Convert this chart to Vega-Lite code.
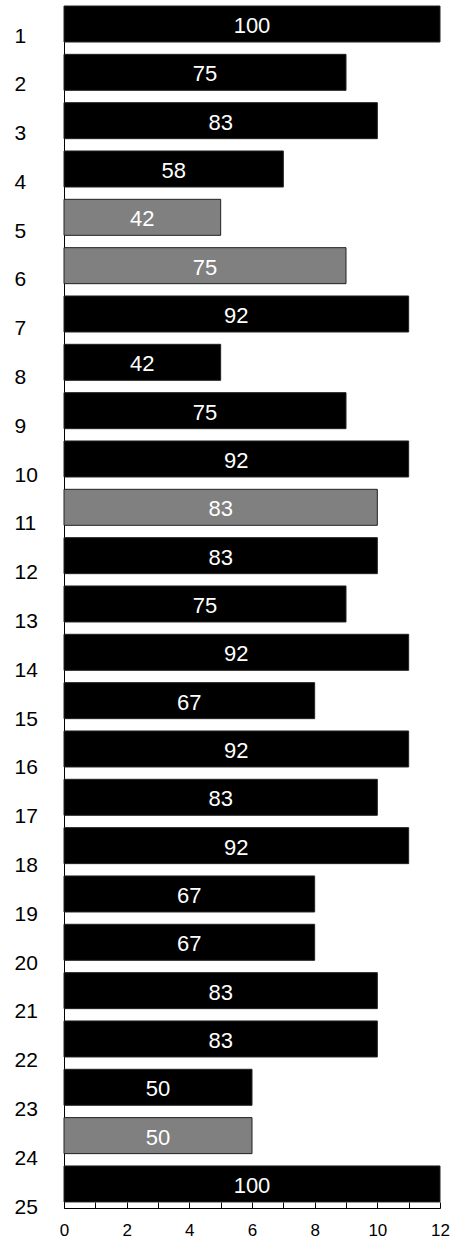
{
  "$schema": "https://vega.github.io/schema/vega-lite/v6.json",
  "width": 376,
  "height": 1202,
  "autosize": {"type": "none"},
  "padding": {"left": 64, "top": 6, "right": 20, "bottom": 33},
  "background": "white",
  "config": {
    "view": {"stroke": null},
    "font": "Liberation Sans",
    "axis": {"grid": false}
  },
  "data": {
    "values": [
      {"row": 1, "value": 12, "pct": 100, "status": "normal"},
      {"row": 2, "value": 9, "pct": 75, "status": "normal"},
      {"row": 3, "value": 10, "pct": 83, "status": "normal"},
      {"row": 4, "value": 7, "pct": 58, "status": "normal"},
      {"row": 5, "value": 5, "pct": 42, "status": "highlight"},
      {"row": 6, "value": 9, "pct": 75, "status": "highlight"},
      {"row": 7, "value": 11, "pct": 92, "status": "normal"},
      {"row": 8, "value": 5, "pct": 42, "status": "normal"},
      {"row": 9, "value": 9, "pct": 75, "status": "normal"},
      {"row": 10, "value": 11, "pct": 92, "status": "normal"},
      {"row": 11, "value": 10, "pct": 83, "status": "highlight"},
      {"row": 12, "value": 10, "pct": 83, "status": "normal"},
      {"row": 13, "value": 9, "pct": 75, "status": "normal"},
      {"row": 14, "value": 11, "pct": 92, "status": "normal"},
      {"row": 15, "value": 8, "pct": 67, "status": "normal"},
      {"row": 16, "value": 11, "pct": 92, "status": "normal"},
      {"row": 17, "value": 10, "pct": 83, "status": "normal"},
      {"row": 18, "value": 11, "pct": 92, "status": "normal"},
      {"row": 19, "value": 8, "pct": 67, "status": "normal"},
      {"row": 20, "value": 8, "pct": 67, "status": "normal"},
      {"row": 21, "value": 10, "pct": 83, "status": "normal"},
      {"row": 22, "value": 10, "pct": 83, "status": "normal"},
      {"row": 23, "value": 6, "pct": 50, "status": "normal"},
      {"row": 24, "value": 6, "pct": 50, "status": "highlight"},
      {"row": 25, "value": 12, "pct": 100, "status": "normal"}
    ]
  },
  "layer": [
    {
      "mark": {"type": "bar", "stroke": "#222222", "strokeWidth": 1},
      "encoding": {
        "y": {
          "field": "row",
          "type": "ordinal",
          "scale": {"type": "band", "paddingInner": 0.255, "paddingOuter": 0.0625, "align": 0, "round": false},
          "axis": {"orient": "left", "labels": false, "ticks": false, "domain": true, "domainColor": "black", "title": null}
        },
        "x": {
          "field": "value",
          "type": "quantitative",
          "scale": {"domain": [0, 12], "nice": false},
          "axis": {
            "values": [0, 1, 2, 3, 4, 5, 6, 7, 8, 9, 10, 11, 12],
            "labelExpr": "datum.value % 2 === 0 ? datum.label : ''",
            "tickSize": -6,
            "tickColor": "black",
            "domainColor": "black",
            "labelPadding": 20,
            "labelFontSize": 17,
            "labelColor": "black",
            "labelFlush": false,
            "labelOverlap": false,
            "title": null
          }
        },
        "fill": {
          "field": "status",
          "type": "nominal",
          "scale": {"domain": ["normal", "highlight"], "range": ["#000000", "#808080"]},
          "legend": null
        }
      }
    },
    {
      "mark": {"type": "text", "color": "white", "fontSize": 22, "dy": 2},
      "encoding": {
        "y": {
          "field": "row",
          "type": "ordinal",
          "scale": {"type": "band", "paddingInner": 0.255, "paddingOuter": 0.0625, "align": 0, "round": false},
          "axis": null
        },
        "x": {
          "field": "value",
          "type": "quantitative",
          "scale": {"domain": [0, 24], "nice": false},
          "axis": null
        },
        "text": {"field": "pct", "type": "quantitative"}
      }
    },
    {
      "mark": {"type": "text", "opacity": 0},
      "encoding": {
        "y": {
          "field": "row",
          "type": "ordinal",
          "scale": {"type": "point", "padding": 0.318, "align": 0.968},
          "axis": {
            "orient": "left",
            "domain": false,
            "ticks": false,
            "labelAlign": "left",
            "labelPadding": 50,
            "labelFontSize": 21,
            "labelColor": "black",
            "title": null
          }
        },
        "text": {"value": ""}
      }
    }
  ],
  "resolve": {
    "scale": {"x": "independent", "y": "independent"},
    "axis": {"x": "independent", "y": "independent"}
  }
}
